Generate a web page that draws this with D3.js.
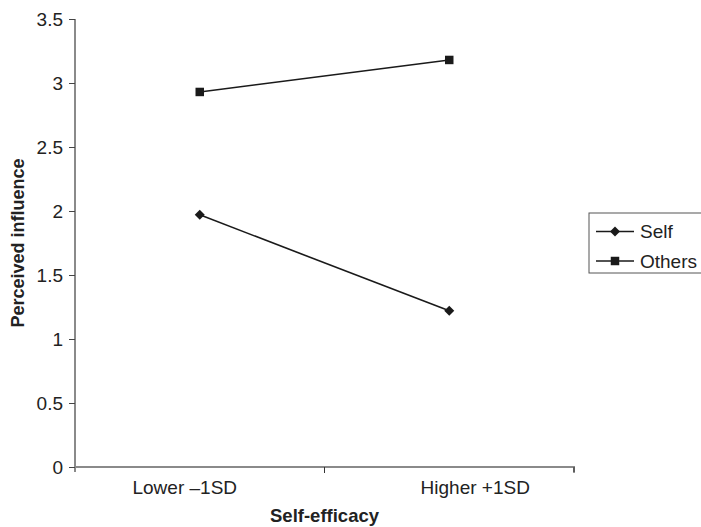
<!DOCTYPE html>
<html>
<head>
<meta charset="utf-8">
<script src="https://cdn.jsdelivr.net/npm/d3@7"></script>
<style>
  html, body { margin: 0; padding: 0; background: #fff; }
  svg { display: block; font-family: "Liberation Sans", Arial, Helvetica, sans-serif; }
</style>
</head>
<body>
<svg id="chart" width="701" height="527"></svg>
<script>
// Data
const categories = ["Lower \u20131SD", "Higher +1SD"];
const selfValues = [1.97, 1.22];
const othersValues = [2.93, 3.18];
const seriesNames = ["Self", "Others"];
const yTicks = [0, 0.5, 1, 1.5, 2, 2.5, 3, 3.5];
const labelShift = [-15, 26]; // label placement offsets as in reference

const series = [
  { name: seriesNames[0], values: selfValues, shape: "diamond" },
  { name: seriesNames[1], values: othersValues, shape: "square" }
];

const svg = d3.select("#chart");
const mLeft = 75, mRight = 574, mTop = 19, mBottom = 467;

const x = d3.scaleBand().domain(categories).range([mLeft, mRight]);
const y = d3.scaleLinear().domain([0, 3.5]).range([mBottom, mTop]);

const symDiamond = d3.symbol().type(d3.symbolDiamond2).size(64);
const symSquare = d3.symbol().type(d3.symbolSquare).size(72);

// Y axis
const yAxis = svg.append("g")
  .attr("transform", `translate(${mLeft},0)`)
  .call(d3.axisLeft(y).tickValues(yTicks).tickSize(6).tickPadding(6)
    .tickFormat(d => d3.format("")(d)));
yAxis.select(".domain").attr("stroke", "#8a8a8a").attr("stroke-width", 2)
  .attr("d", `M0,${mTop}V${mBottom + 5}`);
yAxis.selectAll(".tick line").attr("stroke", "#444").attr("stroke-width", 1);
yAxis.selectAll(".tick text").attr("fill", "#222").style("font-size", "19px")
  .attr("dy", "0.35em");

// X axis
const xAxis = svg.append("g")
  .attr("transform", `translate(0,${mBottom})`)
  .call(d3.axisBottom(x).tickSize(0).tickPadding(14));
xAxis.select(".domain").attr("stroke", "#8a8a8a").attr("stroke-width", 2)
  .attr("d", `M${mLeft},0H${mRight}V5`);
xAxis.selectAll(".tick text").attr("fill", "#222").style("font-size", "19px")
  .attr("dx", (d, i) => labelShift[i]).attr("dy", "0.71em");
// category boundary ticks
const boundaries = [x.range()[0] + x.bandwidth(), x.range()[1]];
xAxis.selectAll("line.boundary").data(boundaries).enter().append("line")
  .attr("class", "boundary")
  .attr("x1", d => d).attr("x2", d => d).attr("y1", 0).attr("y2", 6)
  .attr("stroke", "#333").attr("stroke-width", 1);

// Lines
const line = d3.line()
  .x((d, i) => x(categories[i]) + x.bandwidth() / 2)
  .y(d => y(d));

series.forEach(s => {
  svg.append("path")
    .datum(s.values)
    .attr("d", line)
    .attr("fill", "none")
    .attr("stroke", "#1a1a1a")
    .attr("stroke-width", 1.6);
  svg.selectAll(null).data(s.values).enter().append("path")
    .attr("d", s.shape === "diamond" ? symDiamond() : symSquare())
    .attr("transform", (d, i) => `translate(${x(categories[i]) + x.bandwidth() / 2},${y(d)})`)
    .attr("fill", "#1a1a1a");
});

// Axis titles
svg.append("text")
  .attr("x", (mLeft + mRight) / 2).attr("y", 522)
  .attr("text-anchor", "middle")
  .style("font-size", "18.5px").style("font-weight", "bold").attr("fill", "#222")
  .text("Self-efficacy");
svg.append("text")
  .attr("transform", `translate(24,${(mTop + mBottom) / 2}) rotate(-90)`)
  .attr("text-anchor", "middle")
  .style("font-size", "18px").style("font-weight", "bold").attr("fill", "#222")
  .text("Perceived influence");

// Legend
const lg = svg.append("g").attr("transform", "translate(589,213)");
lg.append("rect").attr("x", 0).attr("y", 0).attr("width", 130).attr("height", 60)
  .attr("fill", "#fff").attr("stroke", "#555").attr("stroke-width", 1);
series.forEach((s, i) => {
  const cy = 18.5 + i * 29.5;
  lg.append("line").attr("x1", 7).attr("x2", 45).attr("y1", cy).attr("y2", cy)
    .attr("stroke", "#1a1a1a").attr("stroke-width", 1.6);
  lg.append("path")
    .attr("d", s.shape === "diamond" ? symDiamond() : symSquare())
    .attr("transform", `translate(26,${cy})`).attr("fill", "#1a1a1a");
  lg.append("text").attr("x", 51).attr("y", cy).attr("dy", "0.35em")
    .style("font-size", "19px").attr("fill", "#222").text(s.name);
});
</script>
</body>
</html>
